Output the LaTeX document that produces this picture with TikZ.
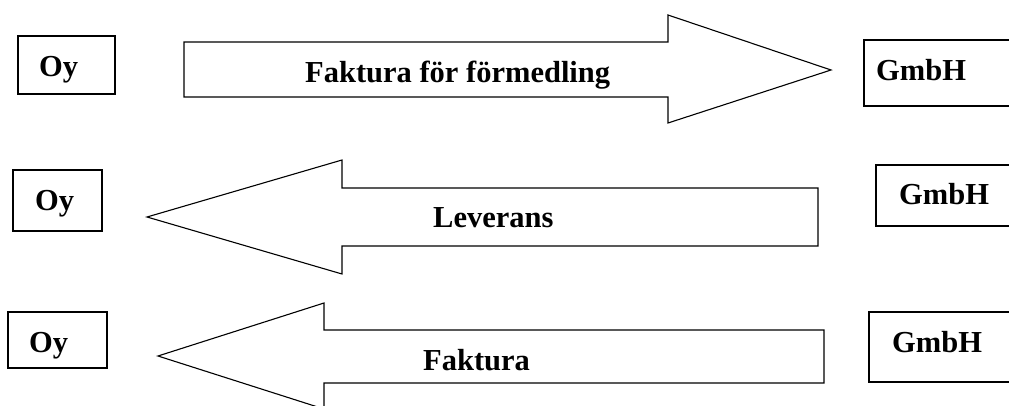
\documentclass[tikz,border=0pt]{standalone}
\usepackage{fontspec}
\setmainfont{Liberation Serif}
\begin{document}
\begin{tikzpicture}[x=1pt,y=-1pt,
  shape line/.style={draw=black,line width=1.1pt,line join=miter},
  lbl/.style={anchor=base west,inner sep=0pt,font=\fontsize{30.5}{36}\selectfont\bfseries}]
\useasboundingbox (0,0) rectangle (1009,406);
\clip (0,0) rectangle (1009,406);
% row 1
\draw[shape line] (18,36) rectangle (115,94);
\node[lbl] (oy1) at (39,77) {Oy};
\draw[shape line] (184,42) -- (668,42) -- (668,15) -- (831,70) -- (668,123) -- (668,97) -- (184,97) -- cycle;
\node[lbl] (a1) at (305,83) {Faktura för förmedling};
\draw[shape line] (1012,40) -- (864,40) -- (864,106) -- (1012,106);
\node[lbl] (gm1) at (876,81) {GmbH};
% row 2
\draw[shape line] (13,170) rectangle (102,231);
\node[lbl] (oy2) at (35,211) {Oy};
\draw[shape line] (818,188) -- (342,188) -- (342,160) -- (147,217) -- (342,274) -- (342,246) -- (818,246) -- cycle;
\node[lbl] (a2) at (433,227) {Leverans};
\draw[shape line] (1012,165) -- (876,165) -- (876,226) -- (1012,226);
\node[lbl] (gm2) at (899,205) {GmbH};
% row 3
\draw[shape line] (8,312) rectangle (107,368);
\node[lbl] (oy3) at (29,352) {Oy};
\draw[shape line] (824,330) -- (324,330) -- (324,303) -- (158,356) -- (324,409) -- (324,383) -- (824,383) -- cycle;
\node[lbl] (a3) at (423,370) {Faktura};
\draw[shape line] (1012,312) -- (869,312) -- (869,382) -- (1012,382);
\node[lbl] (gm3) at (892,352) {GmbH};
\end{tikzpicture}
\end{document}
